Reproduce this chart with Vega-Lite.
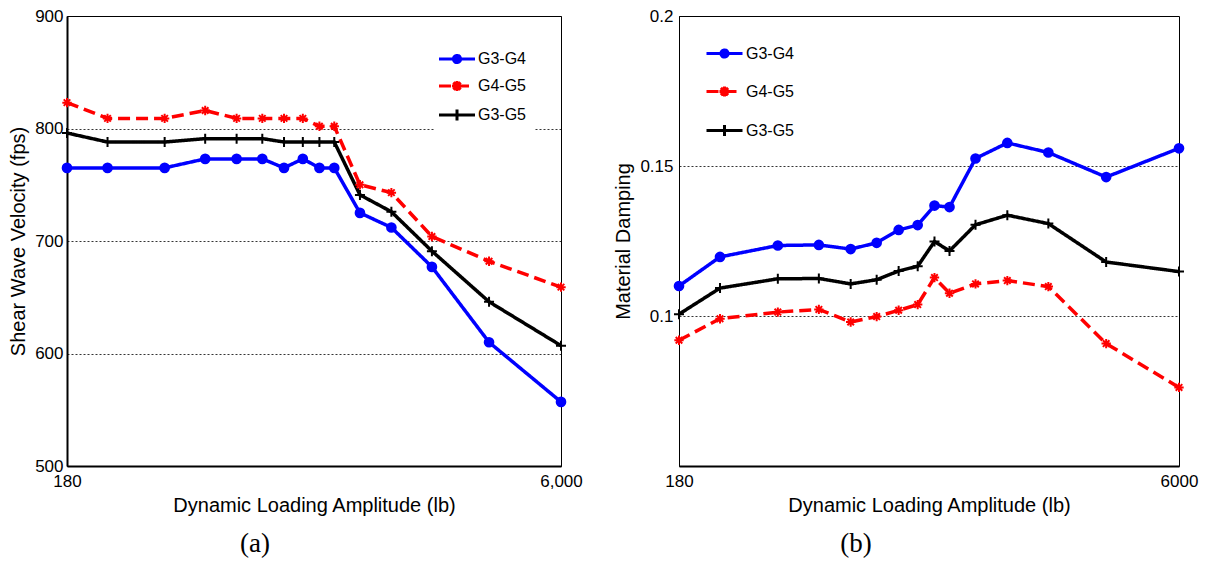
{
  "$schema": "https://vega.github.io/schema/vega-lite/v6.json",
  "padding": {"left": 8, "top": 6, "right": 5, "bottom": 2},
  "background": "white",
  "config": {
    "font": "Liberation Sans",
    "view": {"stroke": "black", "strokeWidth": 1},
    "axis": {
      "labelFont": "Liberation Sans", "titleFont": "Liberation Sans",
      "labelFontSize": 17, "titleFontSize": 20, "titleFontWeight": "normal",
      "labelColor": "black", "titleColor": "black", "domainColor": "black",
      "ticks": false, "gridColor": "black", "gridDash": [2, 2], "gridWidth": 0.8, "gridOpacity": 1
    },
    "legend": {
      "labelFont": "Liberation Sans", "labelFontSize": 16, "labelColor": "black",
      "symbolSize": 1296, "symbolStrokeWidth": 3, "labelOffset": 2, "symbolOpacity": 1,
      "fillColor": "white"
    },
    "title": {"font": "Liberation Serif", "fontSize": 27, "fontWeight": "normal", "color": "black"}
  },
  "data": {"values": [
    {"load": 180, "series": "G3-G4", "vs": 765, "damping": 0.110},
    {"load": 240, "series": "G3-G4", "vs": 765, "damping": 0.1197},
    {"load": 360, "series": "G3-G4", "vs": 765, "damping": 0.1235},
    {"load": 480, "series": "G3-G4", "vs": 773, "damping": 0.1237},
    {"load": 600, "series": "G3-G4", "vs": 773, "damping": 0.1223},
    {"load": 720, "series": "G3-G4", "vs": 773, "damping": 0.1244},
    {"load": 840, "series": "G3-G4", "vs": 765, "damping": 0.1287},
    {"load": 960, "series": "G3-G4", "vs": 773, "damping": 0.1303},
    {"load": 1080, "series": "G3-G4", "vs": 765, "damping": 0.1368},
    {"load": 1200, "series": "G3-G4", "vs": 765, "damping": 0.1363},
    {"load": 1440, "series": "G3-G4", "vs": 725, "damping": 0.1525},
    {"load": 1800, "series": "G3-G4", "vs": 712, "damping": 0.1577},
    {"load": 2400, "series": "G3-G4", "vs": 677, "damping": 0.1545},
    {"load": 3600, "series": "G3-G4", "vs": 610, "damping": 0.1463},
    {"load": 6000, "series": "G3-G4", "vs": 557, "damping": 0.1559},
    {"load": 180, "series": "G4-G5", "vs": 823, "damping": 0.0919},
    {"load": 240, "series": "G4-G5", "vs": 809, "damping": 0.0991},
    {"load": 360, "series": "G4-G5", "vs": 809, "damping": 0.1013},
    {"load": 480, "series": "G4-G5", "vs": 816, "damping": 0.1022},
    {"load": 600, "series": "G4-G5", "vs": 809, "damping": 0.0980},
    {"load": 720, "series": "G4-G5", "vs": 809, "damping": 0.0998},
    {"load": 840, "series": "G4-G5", "vs": 809, "damping": 0.1019},
    {"load": 960, "series": "G4-G5", "vs": 809, "damping": 0.1038},
    {"load": 1080, "series": "G4-G5", "vs": 802, "damping": 0.1128},
    {"load": 1200, "series": "G4-G5", "vs": 802, "damping": 0.1076},
    {"load": 1440, "series": "G4-G5", "vs": 750, "damping": 0.1107},
    {"load": 1800, "series": "G4-G5", "vs": 743, "damping": 0.1118},
    {"load": 2400, "series": "G4-G5", "vs": 704, "damping": 0.1098},
    {"load": 3600, "series": "G4-G5", "vs": 682, "damping": 0.0908},
    {"load": 6000, "series": "G4-G5", "vs": 659, "damping": 0.0762},
    {"load": 180, "series": "G3-G5", "vs": 796, "damping": 0.1006},
    {"load": 240, "series": "G3-G5", "vs": 788, "damping": 0.1093},
    {"load": 360, "series": "G3-G5", "vs": 788, "damping": 0.1124},
    {"load": 480, "series": "G3-G5", "vs": 791, "damping": 0.1125},
    {"load": 600, "series": "G3-G5", "vs": 791, "damping": 0.1107},
    {"load": 720, "series": "G3-G5", "vs": 791, "damping": 0.1121},
    {"load": 840, "series": "G3-G5", "vs": 788, "damping": 0.1150},
    {"load": 960, "series": "G3-G5", "vs": 788, "damping": 0.1166},
    {"load": 1080, "series": "G3-G5", "vs": 788, "damping": 0.1248},
    {"load": 1200, "series": "G3-G5", "vs": 788, "damping": 0.1217},
    {"load": 1440, "series": "G3-G5", "vs": 741, "damping": 0.1304},
    {"load": 1800, "series": "G3-G5", "vs": 726, "damping": 0.1336},
    {"load": 2400, "series": "G3-G5", "vs": 691, "damping": 0.1308},
    {"load": 3600, "series": "G3-G5", "vs": 646, "damping": 0.1180},
    {"load": 6000, "series": "G3-G5", "vs": 607, "damping": 0.1148}
  ]},
  "spacing": 30,
  "hconcat": [
    {
      "width": 494, "height": 450,
      "title": {"text": "(a)", "orient": "bottom", "dx": -59, "offset": 16},
      "encoding": {
        "x": {"field": "load", "type": "quantitative",
          "scale": {"type": "log", "domain": [180, 6000], "nice": false},
          "axis": {"values": [180, 6000], "format": ",d", "title": "Dynamic Loading Amplitude (lb)",
            "grid": false, "domainWidth": 2, "labelPadding": 7, "titlePadding": 6, "labelFlush": false}},
        "y": {"field": "vs", "type": "quantitative",
          "scale": {"domain": [500, 900], "nice": false, "zero": false},
          "axis": {"values": [500, 600, 700, 800, 900], "title": "Shear Wave Velocity (fps)",
            "domainWidth": 2, "labelPadding": 4, "titlePadding": 6}}
      },
      "resolve": {"scale": {"shape": "independent", "stroke": "independent", "strokeDash": "independent"}},
      "layer": [
        {
          "mark": {"type": "line", "strokeWidth": 3.5},
          "encoding": {
            "color": {"field": "series", "type": "nominal",
              "scale": {"domain": ["G3-G4", "G4-G5", "G3-G5"], "range": ["#0000ff", "#ff0000", "#000000"]},
              "legend": null},
            "strokeDash": {"field": "series", "type": "nominal",
              "scale": {"domain": ["G3-G4", "G4-G5", "G3-G5"], "range": [[1, 0], [12, 6], [1, 0]]},
              "legend": null}
          }
        },
        {
          "mark": {"type": "point", "filled": true, "strokeWidth": 2, "opacity": 1},
          "encoding": {
            "shape": {"field": "series", "type": "nominal",
              "scale": {"domain": ["G3-G4", "G4-G5", "G3-G5"], "range": ["circle", "M-1,0L1,0M0,-1L0,1M-0.7,-0.7L0.7,0.7M-0.7,0.7L0.7,-0.7", "M-1,0L1,0M0,-1L0,1"]},
              "legend": null},
            "fill": {"field": "series", "type": "nominal",
              "scale": {"domain": ["G3-G4", "G4-G5", "G3-G5"], "range": ["#0000ff", "#ff0000", "#000000"]}, "legend": null},
            "stroke": {"field": "series", "type": "nominal",
              "scale": {"domain": ["G3-G4", "G4-G5", "G3-G5"], "range": ["#0000ff", "#ff0000", "#000000"]}, "legend": null},
            "size": {"field": "series", "type": "nominal",
              "scale": {"domain": ["G3-G4", "G4-G5", "G3-G5"], "range": [75, 100, 90]}, "legend": null}
          }
        },
        {
          "transform": [{"filter": "false"}],
          "mark": {"type": "point", "filled": false, "strokeWidth": 3, "opacity": 1},
          "encoding": {
            "shape": {"field": "series", "type": "nominal",
              "scale": {"domain": ["G3-G4", "G4-G5", "G3-G5"], "range": [
                "M-1.333,0L1.333,0M-0.267,0A0.267,0.267,0,1,1,0.267,0A0.267,0.267,0,1,1,-0.267,0ZM0,-0.16L0,0.16",
                "M-0.373,0L0.373,0M0,-0.373L0,0.373M-0.267,-0.267L0.267,0.267M-0.267,0.267L0.267,-0.267M-1.333,0L1.333,0",
                "M-1.333,0L1.333,0M0,-0.4L0,0.4"]},
              "legend": {"title": null, "orient": "none", "legendX": 367, "legendY": 20, "padding": 8, "rowPadding": 2, "symbolSize": 729, "labelOffset": 6}},
            "stroke": {"field": "series", "type": "nominal",
              "scale": {"domain": ["G3-G4", "G4-G5", "G3-G5"], "range": ["#0000ff", "#ff0000", "#000000"]},
              "legend": {"title": null, "orient": "none", "legendX": 367, "legendY": 20, "padding": 8, "rowPadding": 2, "symbolSize": 729, "labelOffset": 6}},
            "strokeDash": {"field": "series", "type": "nominal",
              "scale": {"domain": ["G3-G4", "G4-G5", "G3-G5"], "range": [[1, 0], [12, 6], [1, 0]]},
              "legend": {"title": null, "orient": "none", "legendX": 367, "legendY": 20, "padding": 8, "rowPadding": 2, "symbolSize": 729, "labelOffset": 6}}
          }
        }
      ]
    },
    {
      "width": 500, "height": 450,
      "title": {"text": "(b)", "orient": "bottom", "dx": -73, "offset": 16},
      "encoding": {
        "x": {"field": "load", "type": "quantitative",
          "scale": {"type": "log", "domain": [180, 6000], "nice": false},
          "axis": {"values": [180, 6000], "format": "d", "title": "Dynamic Loading Amplitude (lb)",
            "grid": false, "domainWidth": 2, "labelPadding": 7, "titlePadding": 6, "labelFlush": false}},
        "y": {"field": "damping", "type": "quantitative",
          "scale": {"domain": [0.05, 0.2], "nice": false, "zero": false},
          "axis": {"values": [0.1, 0.15, 0.2], "format": "~g", "title": "Material Damping",
            "domainWidth": 1, "labelPadding": 6, "titlePadding": 6}}
      },
      "resolve": {"scale": {"shape": "independent", "stroke": "independent", "strokeDash": "independent"}},
      "layer": [
        {
          "mark": {"type": "line", "strokeWidth": 3.5},
          "encoding": {
            "color": {"field": "series", "type": "nominal",
              "scale": {"domain": ["G3-G4", "G4-G5", "G3-G5"], "range": ["#0000ff", "#ff0000", "#000000"]},
              "legend": null},
            "strokeDash": {"field": "series", "type": "nominal",
              "scale": {"domain": ["G3-G4", "G4-G5", "G3-G5"], "range": [[1, 0], [12, 6], [1, 0]]},
              "legend": null}
          }
        },
        {
          "mark": {"type": "point", "filled": true, "strokeWidth": 2, "opacity": 1},
          "encoding": {
            "shape": {"field": "series", "type": "nominal",
              "scale": {"domain": ["G3-G4", "G4-G5", "G3-G5"], "range": ["circle", "M-1,0L1,0M0,-1L0,1M-0.7,-0.7L0.7,0.7M-0.7,0.7L0.7,-0.7", "M-1,0L1,0M0,-1L0,1"]},
              "legend": null},
            "fill": {"field": "series", "type": "nominal",
              "scale": {"domain": ["G3-G4", "G4-G5", "G3-G5"], "range": ["#0000ff", "#ff0000", "#000000"]}, "legend": null},
            "stroke": {"field": "series", "type": "nominal",
              "scale": {"domain": ["G3-G4", "G4-G5", "G3-G5"], "range": ["#0000ff", "#ff0000", "#000000"]}, "legend": null},
            "size": {"field": "series", "type": "nominal",
              "scale": {"domain": ["G3-G4", "G4-G5", "G3-G5"], "range": [75, 100, 90]}, "legend": null}
          }
        },
        {
          "transform": [{"filter": "false"}],
          "mark": {"type": "point", "filled": false, "strokeWidth": 3, "opacity": 1},
          "encoding": {
            "shape": {"field": "series", "type": "nominal",
              "scale": {"domain": ["G3-G4", "G4-G5", "G3-G5"], "range": [
                "M-1,0L1,0M-0.2,0A0.2,0.2,0,1,1,0.2,0A0.2,0.2,0,1,1,-0.2,0ZM0,-0.12L0,0.12",
                "M-0.28,0L0.28,0M0,-0.28L0,0.28M-0.2,-0.2L0.2,0.2M-0.2,0.2L0.2,-0.2M-1,0L1,0",
                "M-1,0L1,0M0,-0.3L0,0.3"]},
              "legend": {"title": null, "orient": "none", "legendX": 21, "legendY": 13, "padding": 5, "rowPadding": 8}},
            "stroke": {"field": "series", "type": "nominal",
              "scale": {"domain": ["G3-G4", "G4-G5", "G3-G5"], "range": ["#0000ff", "#ff0000", "#000000"]},
              "legend": {"title": null, "orient": "none", "legendX": 21, "legendY": 13, "padding": 5, "rowPadding": 8}},
            "strokeDash": {"field": "series", "type": "nominal",
              "scale": {"domain": ["G3-G4", "G4-G5", "G3-G5"], "range": [[1, 0], [12, 6], [1, 0]]},
              "legend": {"title": null, "orient": "none", "legendX": 21, "legendY": 13, "padding": 5, "rowPadding": 8}}
          }
        }
      ]
    }
  ]
}
